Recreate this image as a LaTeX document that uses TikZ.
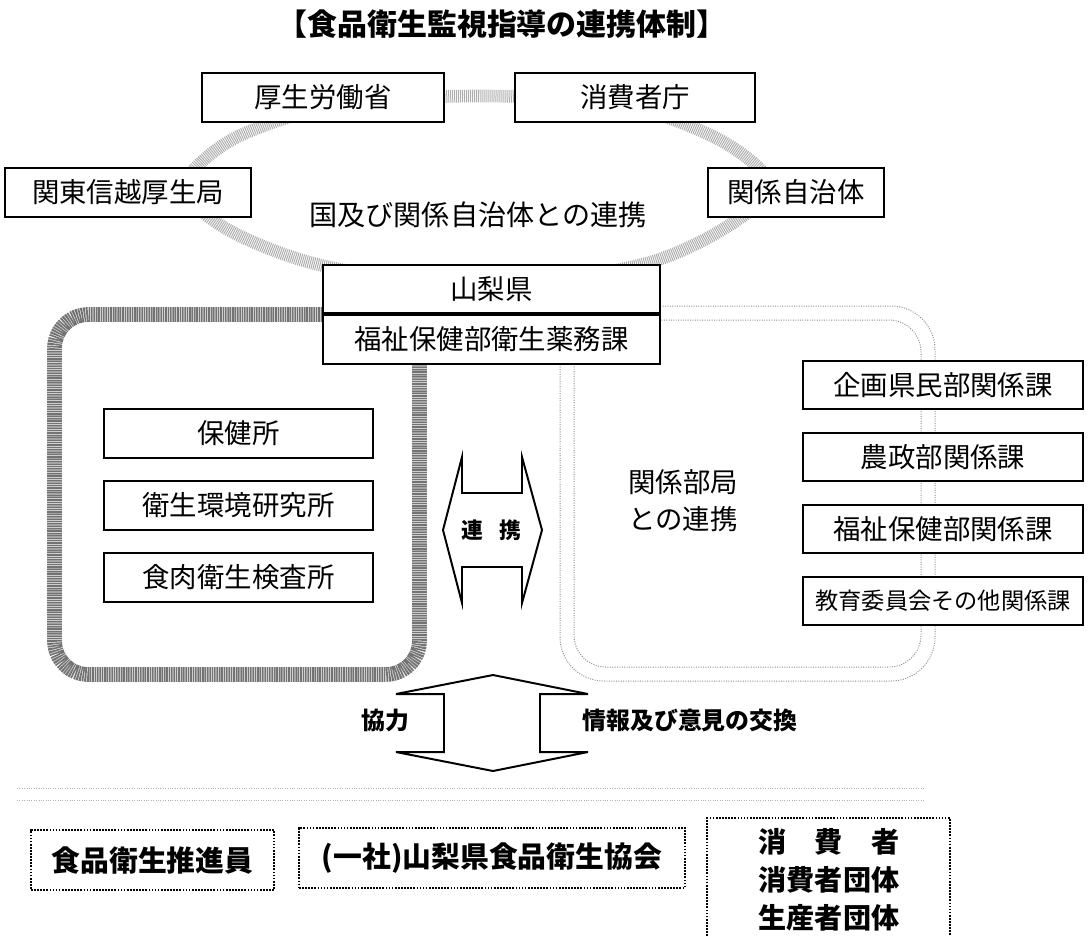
\documentclass[tikz,border=0pt]{standalone}
\usepackage{fontspec}
\setmainfont{Noto Sans CJK JP}
\begin{document}
\begin{tikzpicture}[x=0.025cm,y=-0.025cm,
		box/.style={draw,line width=1.4pt,fill=white,inner sep=0pt,minimum height=1.225cm,font=\fontsize{19.5}{22}\selectfont},
		dotbox/.style={draw,densely dotted,line width=1.2pt,fill=white,inner sep=0pt,minimum height=1.5cm,font=\fontsize{20.5}{24}\selectfont\bfseries},
		ring/.style={draw=black!32,line width=9pt,dash pattern=on 0.7pt off 0.7pt},
		frame/.style={draw=black!55,line width=10.5pt,dash pattern=on 1.2pt off 0.5pt,rounded corners=0.85cm},
		faint/.style={draw=black!45,densely dotted,line width=0.7pt},
		bigarrow/.style={draw,line width=1.4pt,fill=white,line join=miter},
		txt/.style={font=\fontsize{20}{26}\selectfont}]
		\useasboundingbox (0,0) rectangle (1090,936);
		%%Title
		\node[font=\fontsize{21.3}{25}\selectfont\bfseries] (title) at (502,24) {【食品衛生監視指導の連携体制】};
		%%Ring
		\draw[ring] plot[smooth cycle] coordinates {(480,96) (620,104) (720,140) (770,185) (725,228) (640,265) (480,288) (320,265) (225,228) (185,185) (235,138) (340,104)};
		%%Frames
		\draw[frame] (54.5,314.5) rectangle (419.5,674.5);
		\draw[faint,rounded corners=1.1cm] (560,306) rectangle (935,681);
		\draw[faint,rounded corners=0.8cm] (574,320) rectangle (921,667);
		\draw[faint,draw=black!30] (17,788) -- (924,788);
		\draw[faint,draw=black!30] (17,800) -- (924,800);
		%%Nation and local
		\node[box,minimum width=6.05cm] (kosei) at (323,97.5) {厚生労働省};
		\node[box,minimum width=6cm] (shohi) at (635,97.5) {消費者庁};
		\node[box,minimum width=6.15cm] (kanto) at (128,192.5) {関東信越厚生局};
		\node[box,minimum width=4.4cm] (jichitai) at (796,192.5) {関係自治体};
		\node[txt] (kuni) at (478,215) {国及び関係自治体との連携};
		%%Prefecture
		\node[box,minimum width=8.425cm,minimum height=1.2cm] (ken) at (491.5,289) {山梨県};
		\node[box,minimum width=8.425cm,anchor=north] (yakumu) at (ken.south) {福祉保健部衛生薬務課};
		%%Left group
		\node[box,minimum width=6.725cm] (hokenjo) at (238.5,433.5) {保健所};
		\node[box,minimum width=6.725cm] (kankyo) at (238.5,505.5) {衛生環境研究所};
		\node[box,minimum width=6.725cm] (shokuniku) at (238.5,577.5) {食肉衛生検査所};
		%%Right group
		\node[box,minimum width=7cm,minimum height=1.2cm] (kikaku) at (943,385) {企画県民部関係課};
		\node[box,minimum width=7cm,minimum height=1.2cm] (nosei) at (943,457) {農政部関係課};
		\node[box,minimum width=7cm,minimum height=1.2cm] (fukushi) at (943,529) {福祉保健部関係課};
		\node[box,minimum width=7cm,minimum height=1.2cm,font=\fontsize{16.5}{20}\selectfont] (kyoiku) at (943,601) {教育委員会その他関係課};
		\node[txt,align=center,font=\fontsize{19.5}{26.5}\selectfont] (bukyoku) at (683,501) {関係部局\\との連携};
		%%Arrows
		\draw[bigarrow] (462,457) -- (462,493) -- (522,493) -- (522,457) -- (542,530) -- (522,603) -- (522,567) -- (462,567) -- (462,603) -- (443,530) -- cycle;
		\node[font=\fontsize{15.5}{18}\selectfont\bfseries] (renkei) at (491,530) {連\hspace{0.75em}携};
		\draw[bigarrow] (493,675) -- (588,694) -- (540,694) -- (540,752) -- (588,752) -- (493,771) -- (396,752) -- (444,752) -- (444,694) -- (396,694) -- cycle;
		\node[font=\fontsize{17}{20}\selectfont\bfseries] (kyoryoku) at (385,720) {協力};
		\node[font=\fontsize{17}{20}\selectfont\bfseries] (koukan) at (690,720) {情報及び意見の交換};
		%%Bottom
		\node[dotbox,minimum width=6.075cm] (suishin) at (152.5,860) {食品衛生推進員};
		\node[dotbox,minimum width=9.65cm] (kyokai) at (492,858) {(一社)山梨県食品衛生協会};
		\draw[densely dotted,line width=1.2pt] (707,936) -- (707,818) -- (950,818) -- (950,936);
		\node[font=\fontsize{20}{27}\selectfont\bfseries,align=center] (shohisha) at (829,880) {消\hspace{1em}費\hspace{1em}者\\消費者団体\\生産者団体};
\end{tikzpicture}
\end{document}
